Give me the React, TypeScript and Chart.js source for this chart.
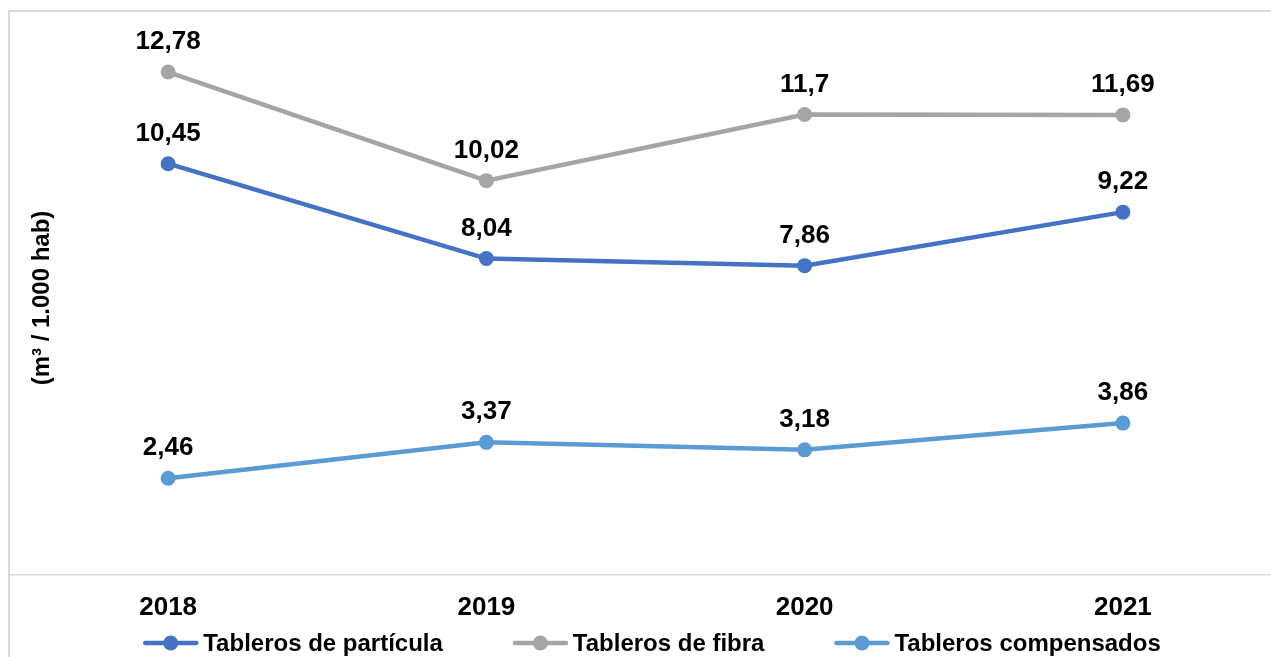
import React, { useEffect, useRef } from "react";
import { Chart, registerables } from "chart.js";

Chart.register(...registerables);

const years = ["2018", "2019", "2020", "2021"];
const particula = [10.45, 8.04, 7.86, 9.22];
const fibra = [12.78, 10.02, 11.7, 11.69];
const compensados = [2.46, 3.37, 3.18, 3.86];
const seriesNames = ["Tableros de partícula", "Tableros de fibra", "Tableros compensados"];
const seriesColors = ["#4472C4", "#A5A5A5", "#5B9BD5"];
const yTitle = "(m³ / 1.000 hab)";

const FONT = "'Liberation Sans', Arial, sans-serif";

const fmt = (v: number) => String(v).replace(".", ",");

const overlayPlugin = {
  id: "overlay",
  afterDatasetsDraw(chart: any) {
    const ctx = chart.ctx;
    ctx.save();
    // data labels
    ctx.fillStyle = "#000";
    ctx.font = `bold 26px ${FONT}`;
    ctx.textAlign = "center";
    ctx.textBaseline = "alphabetic";
    chart.data.datasets.forEach((ds: any, i: number) => {
      const meta = chart.getDatasetMeta(i);
      meta.data.forEach((pt: any, j: number) => {
        ctx.fillText(fmt(ds.data[j]), pt.x, pt.y - 23);
      });
    });
    // y title
    ctx.save();
    ctx.translate(42, 298);
    ctx.rotate(-Math.PI / 2);
    ctx.font = `bold 24px ${FONT}`;
    ctx.textAlign = "center";
    ctx.textBaseline = "middle";
    ctx.fillText(yTitle, 0, 0);
    ctx.restore();
    // legend
    ctx.font = `bold 24px ${FONT}`;
    ctx.textAlign = "left";
    ctx.textBaseline = "middle";
    const lineW = 55;
    const gapText = 5;
    const gapItem = 70;
    const widths = chart.data.datasets.map((ds: any) => ctx.measureText(ds.label).width);
    const total =
      widths.reduce((a: number, b: number) => a + b, 0) +
      chart.data.datasets.length * (lineW + gapText) +
      gapItem * (chart.data.datasets.length - 1);
    let x = 652 - total / 2;
    const y = 643;
    chart.data.datasets.forEach((ds: any, i: number) => {
      ctx.strokeStyle = ds.borderColor;
      ctx.lineWidth = 4.5;
      ctx.lineCap = "round";
      ctx.beginPath();
      ctx.moveTo(x + 2, y);
      ctx.lineTo(x + lineW - 2, y);
      ctx.stroke();
      ctx.fillStyle = ds.borderColor;
      ctx.beginPath();
      ctx.arc(x + lineW / 2, y, 7.5, 0, Math.PI * 2);
      ctx.fill();
      ctx.fillStyle = "#000";
      ctx.fillText(ds.label, x + lineW + gapText, y + 1);
      x += lineW + gapText + widths[i] + gapItem;
    });
    ctx.restore();
  },
};

export default function App() {
  const ref = useRef<HTMLCanvasElement | null>(null);
  useEffect(() => {
    if (!ref.current) return;
    const mk = (label: string, data: number[], color: string) => ({
      label,
      data,
      borderColor: color,
      backgroundColor: color,
      pointBackgroundColor: color,
      pointBorderColor: color,
      borderWidth: 4.5,
      pointRadius: 7.5,
      pointBorderWidth: 0,
      tension: 0,
      fill: false,
    });
    const chart = new Chart(ref.current, {
      type: "line",
      data: {
        labels: years,
        datasets: [
          mk(seriesNames[0], particula, seriesColors[0]),
          mk(seriesNames[1], fibra, seriesColors[1]),
          mk(seriesNames[2], compensados, seriesColors[2]),
        ],
      },
      options: {
        animation: false,
        responsive: false,
        maintainAspectRatio: false,
        layout: { padding: { left: 9, right: 18, top: 24, bottom: 25 } },
        plugins: { legend: { display: false }, tooltip: { enabled: false } },
        scales: {
          x: {
            offset: true,
            grid: { display: false, drawTicks: false },
            border: { display: true, color: "#D9D9D9", width: 1.5 },
            ticks: {
              color: "#000",
              padding: 17,
              font: { family: FONT, size: 26, weight: "bold" },
              maxRotation: 0,
            },
            afterFit(scale: any) {
              scale.height = 80;
            },
          },
          y: {
            display: false,
            min: 0,
            max: 14,
          },
        },
      },
      plugins: [overlayPlugin],
    } as any);
    return () => chart.destroy();
  }, []);
  return (
    <div style={{ position: "fixed", inset: 0, overflow: "hidden", background: "#fff" }}>
      <div
        style={{
          position: "absolute",
          left: 8,
          top: 10,
          width: 1300,
          height: 700,
          border: "2px solid #D9D9D9",
          boxSizing: "border-box",
        }}
      />
      <canvas
        ref={ref}
        width={1300}
        height={680}
        style={{ position: "absolute", left: 0, top: 0, width: 1300, height: 680 }}
      />
    </div>
  );
}
